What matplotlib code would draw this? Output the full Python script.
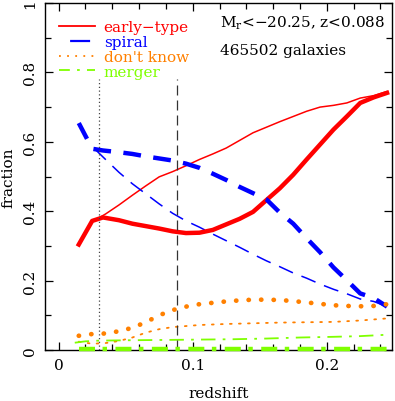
import matplotlib
matplotlib.use("Agg")
import matplotlib.pyplot as plt
from matplotlib.ticker import MultipleLocator
from matplotlib.lines import Line2D

plt.rcParams['font.family'] = ['DejaVu Serif']
plt.rcParams['mathtext.fontset'] = 'dejavuserif'

# ---- data ----
z_thick = [0.015, 0.025, 0.033, 0.045, 0.055, 0.065, 0.075, 0.085, 0.095, 0.105,
           0.115, 0.125, 0.135, 0.145, 0.155, 0.165, 0.175, 0.185, 0.195, 0.205,
           0.215, 0.225, 0.235, 0.245]
early_thick = [0.304, 0.372, 0.382, 0.374, 0.364, 0.357, 0.350, 0.342, 0.337, 0.338,
               0.346, 0.362, 0.378, 0.398, 0.432, 0.466, 0.505, 0.549, 0.592, 0.635,
               0.673, 0.712, 0.728, 0.741]
spiral_thick = [0.654, 0.580, 0.575, 0.570, 0.565, 0.558, 0.552, 0.546, 0.537, 0.525,
                0.508, 0.490, 0.470, 0.452, 0.434, 0.396, 0.364, 0.322, 0.282, 0.238,
                0.201, 0.163, 0.150, 0.125]
dontknow_thick = [0.041, 0.046, 0.047, 0.054, 0.064, 0.080, 0.100, 0.115, 0.125, 0.132,
                  0.136, 0.140, 0.143, 0.145, 0.145, 0.144, 0.141, 0.137, 0.133, 0.129,
                  0.127, 0.126, 0.127, 0.132]
merger_thick = [0.002] * 24

z_thin = [0.027, 0.035, 0.045, 0.055, 0.065, 0.075, 0.085, 0.095, 0.105, 0.115,
          0.125, 0.135, 0.145, 0.155, 0.165, 0.175, 0.185, 0.195, 0.205, 0.215,
          0.225, 0.235, 0.245]
early_thin = [0.374, 0.392, 0.418, 0.446, 0.473, 0.499, 0.514, 0.531, 0.549, 0.565,
              0.582, 0.604, 0.626, 0.642, 0.658, 0.673, 0.688, 0.700, 0.705, 0.712,
              0.726, 0.733, 0.745]
spiral_thin = [0.579, 0.549, 0.512, 0.479, 0.450, 0.421, 0.394, 0.372, 0.354, 0.334,
               0.315, 0.296, 0.276, 0.257, 0.240, 0.222, 0.207, 0.190, 0.175, 0.162,
               0.147, 0.140, 0.125]

z_dk_thin = [0.015, 0.025, 0.035, 0.045, 0.055, 0.065, 0.075, 0.085, 0.095, 0.105,
             0.125, 0.145, 0.165, 0.185, 0.205, 0.225, 0.245]
dontknow_thin = [0.024, 0.018, 0.020, 0.026, 0.036, 0.050, 0.060, 0.066, 0.069, 0.072,
                 0.075, 0.077, 0.079, 0.080, 0.081, 0.085, 0.091]

z_mg_thin = [0.012, 0.020, 0.030, 0.050, 0.080, 0.105, 0.130, 0.155, 0.180, 0.205,
             0.225, 0.245]
merger_thin = [0.021, 0.025, 0.027, 0.028, 0.029, 0.030, 0.031, 0.033, 0.036, 0.038,
               0.040, 0.044]

labels = ["early\u2212type", "spiral", "don't know", "merger"]
z_dotted_line = 0.03
z_dashed_line = 0.088
annot1 = "M$_\\mathregular{r}$<\u221220.25, z<0.088"
annot2 = "465502 galaxies"

RED, BLUE, ORANGE, GREEN = "#ff0000", "#0000ff", "#ff8000", "#7fff00"
FS = 11

fig = plt.figure(figsize=(3.95, 4.02), dpi=100)
ax = fig.add_axes([45/395, 51/402, 347/395, 347/402])

# thin lines
ax.plot(z_thin, early_thin, color=RED, lw=1.1)
ax.plot(z_thin, spiral_thin, color=BLUE, lw=1.1, dashes=(10, 6))
ax.plot(z_dk_thin, dontknow_thin, color=ORANGE, lw=1.3, dashes=(1, 4), dash_capstyle='round')
ax.plot(z_mg_thin, merger_thin, color=GREEN, lw=1.3, dashes=(8, 4, 1.5, 4))

# thick lines
ax.plot(z_thick, early_thick, color=RED, lw=3.2, solid_joinstyle='round')
ax.plot(z_thick, spiral_thick, color=BLUE, lw=3.2, dashes=(4, 2.8))
ax.plot(z_thick, dontknow_thick, color=ORANGE, lw=3.4, dashes=(0.05, 2.6),
        dash_capstyle='round')
ax.plot(z_thick, merger_thick, color=GREEN, lw=3.2, dashes=(3.6, 1.7, 1.0, 1.9),
        clip_on=False, zorder=3)

# vertical reference lines
ax.vlines(z_dotted_line, 0, 0.78, color='#444444', lw=0.9, linestyles=(0, (1, 2)))
ax.vlines(z_dashed_line, 0, 0.78, color='#333333', lw=0.9, linestyles=(0, (8, 4)))

# legend handles
handles = [
    Line2D([], [], color=RED, lw=1.3),
    Line2D([], [], color=BLUE, lw=1.6, dashes=(0, 5, 9, 10)),
    Line2D([], [], color=ORANGE, lw=1.3, dashes=(1, 3.5)),
    Line2D([], [], color=GREEN, lw=1.3, dashes=(6, 4, 1.5, 4)),
]
leg = ax.legend(handles, labels, loc='upper left', frameon=False,
                bbox_to_anchor=(0.015, 0.976), handlelength=2.3, handletextpad=0.6,
                labelspacing=0.05, fontsize=FS, borderaxespad=0.2)
for t, c in zip(leg.get_texts(), [RED, BLUE, ORANGE, GREEN]):
    t.set_color(c)

ax.text(220/395, 1 - 28/402, annot1, transform=fig.transFigure, fontsize=FS,
        ha='left', va='baseline')
ax.text(220/395, 1 - 55/402, annot2, transform=fig.transFigure, fontsize=FS,
        ha='left', va='baseline')

ax.set_xlim(-0.0102, 0.2487)
ax.set_ylim(0, 1)
ax.xaxis.set_minor_locator(MultipleLocator(0.02))
ax.yaxis.set_minor_locator(MultipleLocator(0.1))
ax.set_xticks([0, 0.1, 0.2])
ax.set_xticklabels(["0", "0.1", "0.2"])
ax.set_yticks([0, 0.2, 0.4, 0.6, 0.8, 1.0])
ax.set_yticklabels(["0", "0.2", "0.4", "0.6", "0.8", "1"], rotation=90, va='center')
ax.tick_params(which='both', direction='in', top=True, right=True, labelsize=FS,
               width=0.9, color='black')
ax.tick_params(which='major', length=6, pad=6)
ax.tick_params(which='minor', length=4)
for s in ax.spines.values():
    s.set_linewidth(1.0)

ax.set_xlabel("redshift", fontsize=FS, labelpad=10)
ax.set_ylabel("fraction", fontsize=FS, labelpad=5)

fig.savefig("out.png", dpi=100)
